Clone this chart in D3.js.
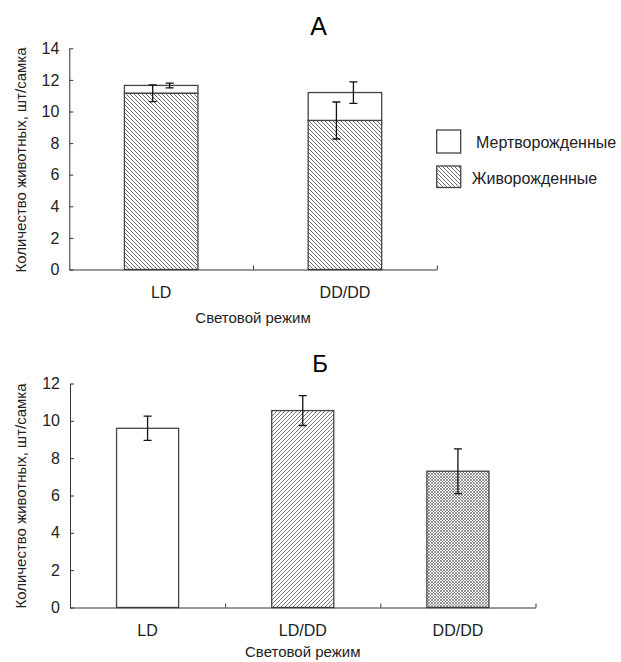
<!DOCTYPE html>
<html>
<head>
<meta charset="utf-8">
<script src="https://cdn.jsdelivr.net/npm/d3@7"></script>
<style>
  body { margin: 0; background: #fff; }
  svg { font-family: "Liberation Sans", Arial, sans-serif; }
  .axis path, .axis line { stroke: #333; stroke-width: 1; }
  .axis text { fill: #222; }
</style>
</head>
<body>
<svg id="chart" width="621" height="662"></svg>
<script>
// panel A: stacked (live + stillborn)
const topCategories = ['LD', 'DD/DD'];
const liveMeans = [11.15, 9.43];
const liveErr = [0.53, 1.17];
const deadMeans = [0.5, 1.77];
const deadErr = [0.15, 0.68];
const topTicks = [0, 2, 4, 6, 8, 10, 12, 14];

// panel Б
const bottomCategories = ['LD', 'LD/DD', 'DD/DD'];
const bottomMeans = [9.6, 10.55, 7.3];
const bottomErr = [0.65, 0.8, 1.2];
const bottomTicks = [0, 2, 4, 6, 8, 10, 12];
const bottomFills = ['#fff', 'url(#hatchUp)', 'url(#cross)'];

const yTitle = 'Количество животных, шт/самка';
const xTitle = 'Световой режим';
const legendLabels = ['Мертворожденные', 'Живорожденные'];

const svg = d3.select('#chart');
const defs = svg.append('defs');

function addPattern(id, size, d, sw) {
    defs.append('pattern')
        .attr('id', id)
        .attr('patternUnits', 'userSpaceOnUse')
        .attr('width', size)
        .attr('height', size)
        .call((p) => p.append('rect').attr('width', size).attr('height', size).attr('fill', '#fff'))
        .append('path')
        .attr('d', d)
        .attr('stroke', '#666')
        .attr('stroke-width', sw);
}
addPattern('hatchDown', 4, 'M-1,-1 l2,2 M0,0 l4,4 M3,3 l2,2', 0.9);
addPattern('hatchUp', 4, 'M-1,1 l2,-2 M0,4 l4,-4 M3,5 l2,-2', 0.9);
addPattern('cross', 3, 'M0,0 l3,3 M0,3 l3,-3', 0.7);

function drawFrame(g, categories, x, y, ticks, labelY, titleY) {
    const n = categories.length;
    const range = x.range();
    const bounds = d3.scaleLinear().domain([0, n]).range(range);

    g.append('g')
        .attr('class', 'axis')
        .attr('transform', 'translate(0,' + y(0) + ')')
        .call(d3.axisBottom(bounds).tickValues(d3.range(1, n + 1)).tickSize(-4).tickSizeOuter(0).tickFormat(''));

    const labels = g.append('g')
        .attr('class', 'axis')
        .attr('transform', 'translate(0,' + y(0) + ')')
        .call(d3.axisBottom(x).tickSize(0).tickPadding(17.5));
    labels.select('.domain').remove();
    labels.selectAll('text').attr('font-size', 16);

    const yAxis = g.append('g')
        .attr('class', 'axis')
        .attr('transform', 'translate(' + range[0] + ',0)')
        .call(d3.axisLeft(y).tickValues(ticks).tickSize(-4).tickSizeOuter(0).tickPadding(10));
    yAxis.selectAll('text').attr('font-size', 16);

    g.append('text')
        .attr('x', (range[0] + range[1]) / 2)
        .attr('y', titleY)
        .attr('text-anchor', 'middle')
        .attr('font-size', 15)
        .attr('fill', '#222')
        .text(xTitle);

    g.append('text')
        .attr('transform', 'translate(26,' + labelY + ') rotate(-90)')
        .attr('text-anchor', 'middle')
        .attr('font-size', 15)
        .attr('fill', '#222')
        .text(yTitle);
}

function errorBar(g, cx, y, mean, err) {
    const cap = 4;
    g.append('path')
        .attr('d', 'M' + cx + ',' + y(mean + err) + 'V' + y(mean - err)
            + 'M' + (cx - cap) + ',' + y(mean + err) + 'h' + cap * 2
            + 'M' + (cx - cap) + ',' + y(mean - err) + 'h' + cap * 2)
        .attr('fill', 'none')
        .attr('stroke', '#111')
        .attr('stroke-width', 1.3);
}

// ---- panel A ----
const gA = svg.append('g');
const xA = d3.scaleBand().domain(topCategories).range([69.3, 436.8]).paddingInner(0.6).paddingOuter(0.3);
const yA = d3.scaleLinear().domain([0, 14]).range([269.5, 48.3]);

gA.append('text')
    .attr('x', 318.5).attr('y', 35)
    .attr('text-anchor', 'middle')
    .attr('font-size', 25)
    .text('А');

topCategories.forEach((c, i) => {
    const total = liveMeans[i] + deadMeans[i];
    gA.append('rect')
        .attr('x', xA(c)).attr('width', xA.bandwidth())
        .attr('y', yA(total)).attr('height', yA(liveMeans[i]) - yA(total))
        .attr('fill', '#fff').attr('stroke', '#444').attr('stroke-width', 1.3);
    gA.append('rect')
        .attr('x', xA(c)).attr('width', xA.bandwidth())
        .attr('y', yA(liveMeans[i])).attr('height', yA(0) - yA(liveMeans[i]))
        .attr('fill', 'url(#hatchDown)').attr('stroke', '#444').attr('stroke-width', 1.3);
});

drawFrame(gA, topCategories, xA, yA, topTicks, 160, 322.7);

topCategories.forEach((c, i) => {
    const cx = xA(c) + xA.bandwidth() / 2;
    errorBar(gA, cx - 8.5, yA, liveMeans[i], liveErr[i]);
    errorBar(gA, cx + 8.5, yA, liveMeans[i] + deadMeans[i], deadErr[i]);
});

// legend
const legendFills = ['#fff', 'url(#hatchDown)'];
const legendBoxes = [[130, 23], [166, 21.5]];
const legendText = [[476, 147.5], [471.7, 184]];
legendLabels.forEach((l, i) => {
    gA.append('rect')
        .attr('x', 436.7).attr('y', legendBoxes[i][0])
        .attr('width', 24).attr('height', legendBoxes[i][1])
        .attr('fill', legendFills[i]).attr('stroke', '#444').attr('stroke-width', 1.3);
    gA.append('text')
        .attr('x', legendText[i][0]).attr('y', legendText[i][1])
        .attr('font-size', 16).attr('fill', '#222')
        .text(l);
});

// ---- panel Б ----
const gB = svg.append('g');
const xB = d3.scaleBand().domain(bottomCategories).range([70, 535.5]).paddingInner(0.6).paddingOuter(0.3);
const yB = d3.scaleLinear().domain([0, 12]).range([607.5, 383.5]);

gB.append('text')
    .attr('x', 320).attr('y', 371.7)
    .attr('text-anchor', 'middle')
    .attr('font-size', 24)
    .text('Б');

gB.selectAll('.bar')
    .data(bottomCategories)
    .enter()
    .append('rect')
    .attr('class', 'bar')
    .attr('x', (d) => xB(d)).attr('width', xB.bandwidth())
    .attr('y', (d, i) => yB(bottomMeans[i]))
    .attr('height', (d, i) => yB(0) - yB(bottomMeans[i]))
    .attr('fill', (d, i) => bottomFills[i])
    .attr('stroke', '#444').attr('stroke-width', 1.3);

drawFrame(gB, bottomCategories, xB, yB, bottomTicks, 496, 656.7);

bottomCategories.forEach((c, i) => {
    errorBar(gB, xB(c) + xB.bandwidth() / 2, yB, bottomMeans[i], bottomErr[i]);
});
</script>
</body>
</html>
